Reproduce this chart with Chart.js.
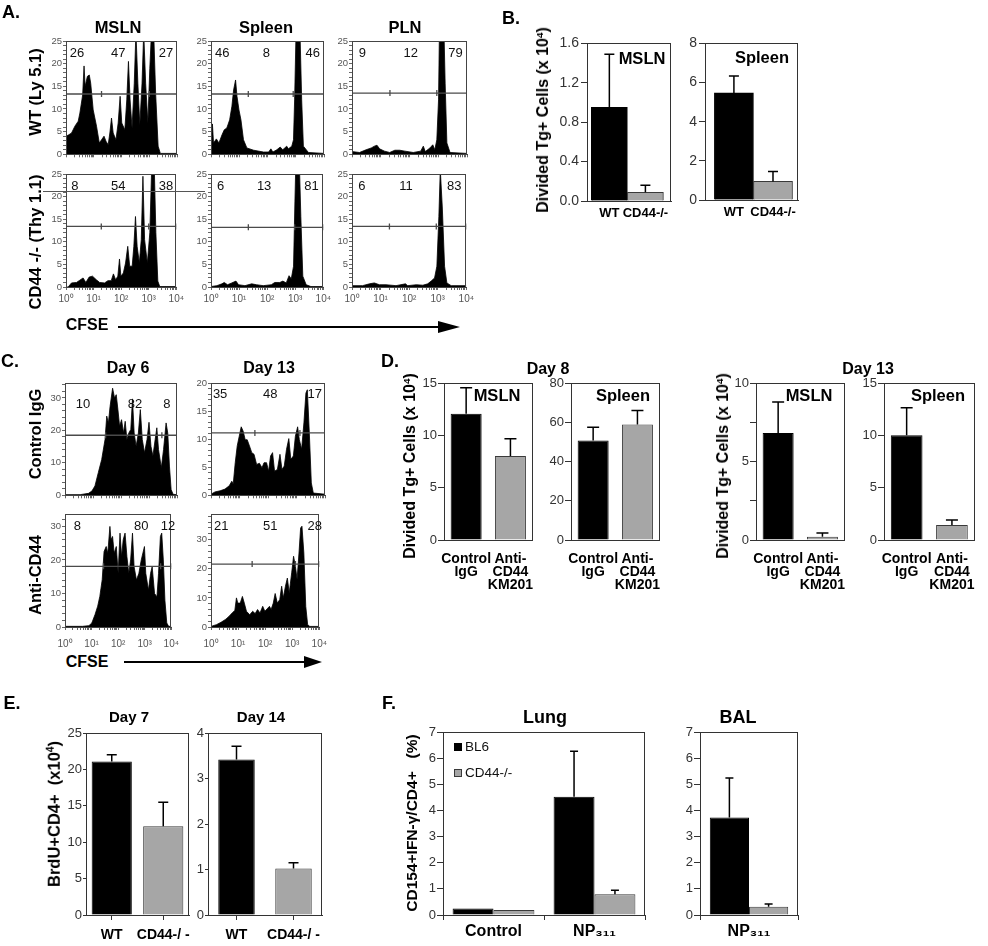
<!DOCTYPE html>
<html><head><meta charset="utf-8"><title>CD44 figure</title>
<script src="https://cdn.jsdelivr.net/npm/chart.js@4.4.1/dist/chart.umd.min.js"></script>
<style>
html,body{margin:0;padding:0;background:#fff;}
body{position:relative;width:988px;height:946px;overflow:hidden;font-family:'Liberation Sans',Arial,Helvetica,sans-serif;}
canvas{position:absolute;}
.t{position:absolute;transform:translate(-50%,-50%);white-space:nowrap;line-height:1;color:#000;}
.t.r{transform:translate(-50%,-50%) rotate(-90deg);}
.t sup{font-size:0.62em;line-height:0;vertical-align:0.55em;}
.ln{position:absolute;background:#000;}
.tri{position:absolute;width:0;height:0;border-style:solid;border-color:transparent transparent transparent #000;}
.sq{position:absolute;width:8px;height:8px;}
</style></head><body>
<script>
// ===================== DATA =====================
// CFSE histograms (x in decades of log10 CFSE, y = events)
const A_Y_TICKS = [0,5,10,15,20,25];
const A_MSLN_WT_X = [0,0.1,0.2,0.32,0.44,0.5,0.6,0.65,0.69,0.77,0.84,0.89,0.98,1.1,1.2,1.28,1.37,1.44,1.52,1.58,1.64,1.7,1.8,1.88,1.95,2.01,2.12,2.19,2.25,2.31,2.38,2.46,2.52,2.59,2.66,2.74,2.8,2.87,2.95,3.02,3.08,3.16,3.23,3.32,3.4,4];
const A_MSLN_WT_Y = [4.0,4.3,4.7,6.2,7.3,9.1,13.1,19.5,15,17.2,17.5,15.7,9.8,6.2,2.5,3.2,4.0,2.9,2.1,4.7,8.0,4.7,3.2,6.9,12.8,6.9,5.4,12,20.5,12,5.8,15.7,27,15.7,6.5,15.7,27,15.7,6.9,19,27,27,13.5,1.8,0.2,0.2];
const A_SPL_WT_X = [0,0.05,0.09,0.19,0.28,0.39,0.47,0.56,0.66,0.74,0.8,0.87,0.92,0.99,1.06,1.15,1.27,1.51,1.86,2.04,2.12,2.19,2.33,2.45,2.54,2.68,2.74,2.86,2.92,2.96,3.01,3.15,3.21,3.27,3.45,4];
const A_SPL_WT_Y = [2.5,6.7,2.5,3.4,2.5,4.3,5.4,5.8,7.6,10.6,14.2,16.4,12.8,9.8,7.6,3.2,1.4,0.9,0.5,0.5,1.2,0.5,1.0,1.6,1.0,1.8,1.2,1.8,3.2,12,27,27,12,1.8,0.4,0.2];
const A_PLN_WT_X = [0,0.26,0.49,0.67,0.78,0.87,0.96,1.13,1.31,1.49,1.66,1.84,2.13,2.39,2.48,2.55,2.71,2.81,2.88,2.95,3.01,3.04,3.2,3.24,3.3,3.41,4];
const A_PLN_WT_Y = [0.6,0.4,1.0,1.4,1.8,2.0,1.2,0.7,0.4,0.9,0.9,0.7,0.4,0.7,1.8,0.6,1.4,2.1,1.0,3.2,12,27,27,15.7,2.5,0.4,0.2];
const A_MSLN_KO_X = [0,0.08,0.2,0.38,0.5,0.62,0.72,0.84,0.96,1.1,1.22,1.4,1.52,1.64,1.72,1.8,1.88,1.94,1.99,2.08,2.16,2.24,2.31,2.4,2.46,2.52,2.58,2.66,2.73,2.79,2.85,2.95,3.04,3.11,3.2,3.26,3.33,3.4,4];
const A_MSLN_KO_Y = [0,0,0.9,1.0,1.5,2.0,1.0,2.2,2.4,1.6,1.0,0.9,1.4,1.4,2.9,1.6,2.4,6.2,2.4,3.1,5.3,9.0,4.6,4.6,9.0,15.6,9.0,5.3,10.5,24.5,10.5,5.3,12,27,27,12,1.3,0.1,0.1];
const A_SPL_KO_X = [0,0.21,0.39,0.47,0.59,0.74,0.89,0.98,1.21,1.45,1.62,1.86,2.15,2.27,2.45,2.56,2.68,2.78,2.86,2.94,2.99,3.02,3.15,3.2,3.27,3.39,3.56,4];
const A_SPL_KO_Y = [0.1,0.3,0.7,1.0,0.5,0.9,1.3,0.5,0.3,0.7,0.5,0.3,0.5,1.0,1.0,1.3,0.9,2.5,1.8,4.6,19,27,27,15.6,2.4,0.5,0.1,0.1];
const A_PLN_KO_X = [0,0.37,0.61,0.78,0.96,1.19,1.54,1.87,1.95,2.25,2.48,2.65,2.77,2.89,2.97,3.04,3.09,3.16,3.24,3.32,3.47,4];
const A_PLN_KO_Y = [0.3,0.3,0.7,0.9,0.5,0.5,0.3,0.7,0.3,0.5,0.4,0.7,1.3,2.0,4.6,15.6,26,17.7,4.6,0.9,0.3,0.3];

const A_MSLN_WT_PCT = ['26','47','27'];
const A_SPL_WT_PCT  = ['46','8','46'];
const A_PLN_WT_PCT  = ['9','12','79'];
const A_MSLN_KO_PCT = ['8','54','38'];
const A_SPL_KO_PCT  = ['6','13','81'];
const A_PLN_KO_PCT  = ['6','11','83'];

const A_MSLN_WT_GATE = [0,1.28,3.0,4];  const A_MSLN_WT_GATE_Y = 13.3;
const A_SPL_WT_GATE  = [0,1.32,2.91,4]; const A_SPL_WT_GATE_Y  = 13.3;
const A_PLN_WT_GATE  = [0,1.32,2.95,4]; const A_PLN_WT_GATE_Y  = 13.5;
const A_MSLN_KO_GATE = [0,1.28,3.0,4];  const A_MSLN_KO_GATE_Y = 13.4;
const A_SPL_KO_GATE  = [0,1.33,2.98,4]; const A_SPL_KO_GATE_Y  = 13.2;
const A_PLN_KO_GATE  = [0,1.31,2.95,4]; const A_PLN_KO_GATE_Y  = 13.4;

const C_D6_TICKS = [0,10,20,30];
const C_D13C_TICKS = [0,5,10,15,20];
const C_D6_CTRL_X = [0,0.54,0.84,0.96,1.07,1.19,1.31,1.43,1.49,1.55,1.61,1.7,1.77,1.83,1.89,1.95,2.02,2.09,2.15,2.21,2.28,2.35,2.41,2.47,2.54,2.62,2.69,2.76,2.84,2.93,3.0,3.07,3.14,3.22,3.28,3.34,3.44,3.52,3.61,3.67,3.73,3.79,3.86,4];
const C_D6_CTRL_Y = [0.2,0.2,0.6,1.3,2.9,7.0,11,17.2,24.4,22.3,27.4,33,30,31,26.4,21.3,23.3,19.2,22.8,17.2,19.2,20.3,29.7,19.2,15.1,19.2,26.4,17.2,13.1,17.2,22.5,15.1,12.1,17.2,20.8,14.1,8.5,14.1,22.3,19.2,9.0,1.8,0.3,0.2];
const C_D13_CTRL_X = [0,0.14,0.32,0.49,0.64,0.73,0.78,0.85,0.92,0.99,1.06,1.13,1.2,1.27,1.35,1.43,1.51,1.6,1.7,1.79,1.86,1.95,2.02,2.09,2.16,2.23,2.33,2.42,2.49,2.57,2.65,2.73,2.8,2.89,2.96,3.04,3.1,3.18,3.26,3.33,3.38,3.45,3.52,3.59,4];
const C_D13_CTRL_Y = [0.2,0.6,0.8,1.1,1.7,2.5,2.0,5.8,8.8,10.5,12.2,11.4,9.9,9.9,8.8,7.6,7.3,5.5,5.7,4.9,5.8,5.8,4.3,7.0,7.6,4.3,4.6,7.3,4.6,5.2,8.2,10.1,6.4,7.0,10.5,12.2,9.9,8.2,12.9,18.2,18.8,11.1,2.2,0.4,0.2];
const C_D6_ANTI_X = [0,0.66,0.9,1.01,1.13,1.23,1.31,1.4,1.47,1.55,1.61,1.69,1.73,1.79,1.85,1.93,2.0,2.07,2.13,2.19,2.26,2.33,2.4,2.47,2.54,2.6,2.69,2.78,2.87,2.99,3.04,3.14,3.22,3.28,3.37,3.46,3.52,3.59,3.64,3.7,3.76,3.83,3.9,4];
const C_D6_ANTI_Y = [0.2,0.2,0.4,1.2,3.7,6.2,9.1,14.1,22.5,24,22,30,26,27,22,24,16,28,21,26,28,21,16,20,28,18,14,16,20,24,16,11,16,18,10,9,16,27,28,20,8,1.2,0.2,0.2];
const C_D13_ANTI_X = [0,0.2,0.37,0.55,0.67,0.78,0.88,0.94,0.99,1.08,1.16,1.23,1.31,1.43,1.54,1.63,1.72,1.81,1.91,1.99,2.07,2.16,2.22,2.3,2.37,2.45,2.54,2.61,2.67,2.75,2.82,2.89,2.98,3.05,3.12,3.18,3.25,3.31,3.36,3.43,3.5,3.57,3.65,4];
const C_D13_ANTI_Y = [0.2,0.8,1.6,2.7,3.7,4.8,5.7,10,8.2,8.2,10.5,8.2,5.4,4.2,5.4,4.6,6.0,4.8,7.1,5.4,6.2,7.1,6.0,8.2,11.5,8.2,9.4,14,10,14,16.8,11.7,18.6,24.3,20.8,16.3,25.4,34,34.6,25.4,7.1,0.8,0.2,0.2];

const C_D6_CTRL_PCT = ['10','82','8'];
const C_D13_CTRL_PCT = ['35','48','17'];
const C_D6_ANTI_PCT = ['8','80','12'];
const C_D13_ANTI_PCT = ['21','51','28'];
const C_D6_CTRL_GATE = [0,1.45,3.46,4];  const C_D6_CTRL_GATE_Y = 18.5;
const C_D13_CTRL_GATE = [0,1.54,3.12,4]; const C_D13_CTRL_GATE_Y = 11.1;
const C_D6_ANTI_GATE = [0,1.45,3.6,4];   const C_D6_ANTI_GATE_Y = 18.1;
const C_D13_ANTI_GATE = [0,1.52,3.12,4]; const C_D13_ANTI_GATE_Y = 21.6;

// Bar charts (means and upper error-bar ends)
const B_GROUPS = ['WT','CD44-/-'];
const B_MSLN = [0.95, 0.088];   const B_MSLN_ERR = [1.49, 0.159];   const B_MSLN_TICKS = [0,0.4,0.8,1.2,1.6];
const B_SPLEEN = [5.47, 0.95];  const B_SPLEEN_ERR = [6.34, 1.45];  const B_SPLEEN_TICKS = [0,2,4,6,8];

const D_GROUPS = [['Control','IgG'],['Anti-','CD44','KM201']];
const D8_MSLN = [12.06, 8.03];   const D8_MSLN_ERR = [14.54, 9.68];   const D8_MSLN_TICKS = [0,5,10,15];
const D8_SPLEEN = [50.7, 58.9];  const D8_SPLEEN_ERR = [57.4, 66.0];  const D8_SPLEEN_TICKS = [0,20,40,60,80];
const D13_MSLN = [6.82, 0.21];   const D13_MSLN_ERR = [8.79, 0.44];   const D13_MSLN_TICKS = [0,2.5,5,7.5,10];
const D13_SPLEEN = [10.0, 1.43]; const D13_SPLEEN_ERR = [12.63, 1.9]; const D13_SPLEEN_TICKS = [0,5,10,15];

const E_GROUPS = ['WT','CD44-/ -'];
const E_DAY7 = [21.1, 12.2];   const E_DAY7_ERR = [22.0, 15.5];   const E_DAY7_TICKS = [0,5,10,15,20,25];
const E_DAY14 = [3.42, 1.02];  const E_DAY14_ERR = [3.71, 1.15];  const E_DAY14_TICKS = [0,1,2,3,4];

const F_SERIES = ['BL6','CD44-/-'];
const F_LUNG_GROUPS = ['Control','NP₃₁₁'];
const F_LUNG_BL6 = [0.25, 4.52]; const F_LUNG_BL6_ERR = [null, 6.26];
const F_LUNG_KO  = [0.19, 0.79]; const F_LUNG_KO_ERR  = [null, 0.95];
const F_BAL_GROUPS = ['NP₃₁₁'];
const F_BAL_BL6 = [3.73]; const F_BAL_BL6_ERR = [5.24];
const F_BAL_KO  = [0.32]; const F_BAL_KO_ERR  = [0.42];
const F_TICKS = [0,1,2,3,4,5,6,7];

// ===================== STYLE / HELPERS =====================
const FONT = "'Liberation Sans', Arial, Helvetica, sans-serif";
Chart.defaults.font.family = FONT;
Chart.defaults.color = '#333';
const BLACK = '#000', GRAY = '#a6a6a6', EDGE = '#3a3a3a', AX = '#333';
const SUP = ['⁰','¹','²','³','⁴'];
const isInt = v => Math.abs(v - Math.round(v)) < 1e-6;
const LOG_TICKS = (() => { const t = []; for (let d = 0; d < 4; d++) for (let k = 1; k < 10; k++) t.push(d + Math.log10(k)); t.push(4); return t; })();

Chart.register({
  id: 'box', defaults: { on: false, color: '#333', width: 1 },
  afterDraw(ch, args, o) {
    if (!o.on) return;
    const a = ch.chartArea, c = ch.ctx;
    c.save(); c.strokeStyle = o.color; c.lineWidth = o.width;
    c.strokeRect(Math.round(a.left) + 0.5, Math.round(a.top) + 0.5, Math.round(a.right - a.left) - 1, Math.round(a.bottom - a.top));
    c.restore();
  }
});
Chart.register({
  id: 'err', defaults: { cap: 5, width: 1.5, color: '#000' },
  afterDatasetsDraw(ch, args, o) {
    const c = ch.ctx, ys = ch.scales.y;
    ch.data.datasets.forEach((ds, i) => {
      if (!ds.errUpper) return;
      ch.getDatasetMeta(i).data.forEach((bar, j) => {
        const e = ds.errUpper[j];
        if (e == null) return;
        const py = ys.getPixelForValue(e);
        c.save(); c.strokeStyle = o.color; c.lineWidth = o.width; c.beginPath();
        c.moveTo(bar.x, bar.y); c.lineTo(bar.x, py);
        c.moveTo(bar.x - o.cap, py); c.lineTo(bar.x + o.cap, py);
        c.stroke(); c.restore();
      });
    });
  }
});

function mk(box, m, cfg) {
  const [l, t, r, b] = box;
  const w = r - l + m.yW + m.pr, h = b - t + m.pt + m.xH;
  const c = document.createElement('canvas');
  c.width = w; c.height = h;
  Object.assign(c.style, { left: (l - m.yW) + 'px', top: (t - m.pt) + 'px', width: w + 'px', height: h + 'px' });
  document.body.appendChild(c);
  const o = cfg.options;
  o.responsive = false; o.animation = false; o.devicePixelRatio = 1; o.events = [];
  o.layout = { padding: { top: m.pt, right: m.pr, left: 0, bottom: 0 } };
  o.plugins = Object.assign({ legend: { display: false }, tooltip: { enabled: false } }, o.plugins || {});
  o.scales.x.afterFit = s => { s.height = m.xH; };
  o.scales.y.afterFit = s => { s.width = m.yW; };
  return new Chart(c, cfg);
}

function txt(x, y, html, size, opt) {
  opt = opt || {};
  const d = document.createElement('div');
  d.className = 't' + (opt.rot ? ' r' : '');
  d.style.left = x + 'px'; d.style.top = y + 'px'; d.style.fontSize = size + 'px';
  d.style.fontWeight = opt.normal ? 'normal' : 'bold';
  if (opt.color) d.style.color = opt.color;
  d.innerHTML = html;
  document.body.appendChild(d);
}
function hline(x1, x2, y, th, col) {
  const d = document.createElement('div'); d.className = 'ln';
  Object.assign(d.style, { left: x1 + 'px', top: (y - th / 2) + 'px', width: (x2 - x1) + 'px', height: th + 'px', background: col || '#000' });
  document.body.appendChild(d);
}
function arrow(x1, x2, y, headLen, headH) {
  hline(x1, x2 - headLen + 1, y, 1.6);
  const d = document.createElement('div'); d.className = 'tri';
  Object.assign(d.style, { left: (x2 - headLen) + 'px', top: (y - headH / 2) + 'px', borderWidth: (headH / 2) + 'px 0 ' + (headH / 2) + 'px ' + headLen + 'px' });
  document.body.appendChild(d);
}

// ---------- histogram factory ----------
function hist(h) {
  const yAll = []; for (let v = 0; v <= h.ymax + 1e-9; v += h.minor) yAll.push(v);
  const m = { yW: 26, pt: 8, pr: 10, xH: h.showX ? h.xH : 6 };
  mk(h.box, m, {
    type: 'line',
    data: { datasets: [
      { data: h.gate.map(x => ({ x, y: h.gy })), borderColor: '#4a4a4a', borderWidth: 1.3, pointStyle: 'line', rotation: 90, pointRadius: 3, pointBorderColor: '#4a4a4a', pointBorderWidth: 1.3, fill: false, order: 0 },
      { data: h.x.map((x, i) => ({ x, y: h.y[i] })), borderColor: BLACK, backgroundColor: BLACK, borderWidth: 0.8, pointRadius: 0, fill: 'origin', tension: 0, order: 1 }
    ] },
    options: {
      plugins: { box: { on: true, color: '#444' } },
      scales: {
        x: { type: 'linear', min: 0, max: 4,
             afterBuildTicks: s => { s.ticks = LOG_TICKS.map(v => ({ value: v })); },
             ticks: { display: !!h.showX, autoSkip: false, maxRotation: 0, padding: h.xPad || 3, font: { size: 10 }, color: '#555',
                      callback: v => isInt(v) ? '10' + SUP[Math.round(v)] : '' },
             grid: { drawOnChartArea: false, tickLength: 3, color: '#666' }, border: { color: '#444' } },
        y: { min: 0, max: h.ymax,
             afterBuildTicks: s => { s.ticks = yAll.map(v => ({ value: v })); },
             ticks: { autoSkip: false, padding: 1, font: { size: 9.5 }, color: '#555',
                      callback: v => h.yt.some(t => Math.abs(t - v) < 1e-6) ? String(Math.round(v)) : '' },
             grid: { drawOnChartArea: false, tickLength: 3, color: '#666' }, border: { color: '#444' } }
      }
    }
  });
  const [l, t, r] = h.box;
  h.pct.forEach((p, i) => txt(l + h.fx[i] * (r - l), t + h.dy, p, 13, { normal: true, color: '#111' }));
}

// ---------- bar factory ----------
function barChart(box, m, o) {
  const lin = !!o.xRange;
  const x = {
    ticks: { font: { size: o.xFont, weight: 'bold', lineHeight: o.lh || 1.2 }, color: '#000', padding: o.xPad, maxRotation: 0, autoSkip: false },
    grid: o.xGrid === 'none' ? { display: false, drawTicks: false } : { display: true, drawOnChartArea: false, offset: o.xGrid === 'bound', tickLength: 5, color: AX },
    border: { color: AX }
  };
  let labels;
  if (lin) {
    Object.assign(x, { type: 'linear', min: o.xRange[0], max: o.xRange[1], offset: false,
      afterBuildTicks: s => { s.ticks = o.labels.map((_, i) => ({ value: i })); } });
    x.ticks.callback = v => o.labels[Math.round(v)];
  } else { x.type = 'category'; labels = o.labels; }
  const datasets = o.series.map(s => ({
    label: s.label,
    data: lin ? s.data.map((v, i) => ({ x: i, y: v })) : s.data,
    errUpper: s.err, backgroundColor: s.bg, borderColor: s.bd, borderWidth: 1,
    barPercentage: o.barPct, categoryPercentage: o.catPct
  }));
  mk(box, m, {
    type: 'bar',
    data: lin ? { datasets } : { labels, datasets },
    options: {
      plugins: { box: { on: true, color: AX }, err: { cap: o.cap || 5 } },
      scales: {
        x,
        y: { min: 0, max: o.ymax,
             afterBuildTicks: s => { s.ticks = o.yTicks.map(v => ({ value: v })); },
             ticks: { autoSkip: false, font: { size: o.yFont }, color: '#333', padding: o.yPad || 2, callback: o.yFmt || (v => String(v)) },
             grid: { drawOnChartArea: false, tickLength: o.tl, color: AX }, border: { color: AX } }
      }
    }
  });
}

// ===================== PANEL A =====================
hist({ box: [66,41,177,155], x: A_MSLN_WT_X, y: A_MSLN_WT_Y, ymax: 25, minor: 1, yt: A_Y_TICKS, gate: A_MSLN_WT_GATE, gy: A_MSLN_WT_GATE_Y, pct: A_MSLN_WT_PCT, fx: [0.1,0.47,0.9], dy: 11 });
hist({ box: [211,41,324,155], x: A_SPL_WT_X, y: A_SPL_WT_Y, ymax: 25, minor: 1, yt: A_Y_TICKS, gate: A_SPL_WT_GATE, gy: A_SPL_WT_GATE_Y, pct: A_SPL_WT_PCT, fx: [0.1,0.49,0.9], dy: 11 });
hist({ box: [352,41,467,155], x: A_PLN_WT_X, y: A_PLN_WT_Y, ymax: 25, minor: 1, yt: A_Y_TICKS, gate: A_PLN_WT_GATE, gy: A_PLN_WT_GATE_Y, pct: A_PLN_WT_PCT, fx: [0.09,0.51,0.9], dy: 11 });
hist({ box: [66,174,177,287], x: A_MSLN_KO_X, y: A_MSLN_KO_Y, ymax: 25, minor: 1, yt: A_Y_TICKS, gate: A_MSLN_KO_GATE, gy: A_MSLN_KO_GATE_Y, pct: A_MSLN_KO_PCT, fx: [0.08,0.47,0.9], dy: 11, showX: true, xH: 22, xPad: 3 });
hist({ box: [211,174,324,287], x: A_SPL_KO_X, y: A_SPL_KO_Y, ymax: 25, minor: 1, yt: A_Y_TICKS, gate: A_SPL_KO_GATE, gy: A_SPL_KO_GATE_Y, pct: A_SPL_KO_PCT, fx: [0.086,0.47,0.89], dy: 11, showX: true, xH: 22, xPad: 3 });
hist({ box: [352,174,467,287], x: A_PLN_KO_X, y: A_PLN_KO_Y, ymax: 25, minor: 1, yt: A_Y_TICKS, gate: A_PLN_KO_GATE, gy: A_PLN_KO_GATE_Y, pct: A_PLN_KO_PCT, fx: [0.085,0.47,0.89], dy: 11, showX: true, xH: 22, xPad: 3 });

// ===================== PANEL C =====================
hist({ box: [65,383,177,496], x: C_D6_CTRL_X, y: C_D6_CTRL_Y, ymax: 34.6, minor: 2, yt: C_D6_TICKS, gate: C_D6_CTRL_GATE, gy: C_D6_CTRL_GATE_Y, pct: C_D6_CTRL_PCT, fx: [0.16,0.625,0.91], dy: 20 });
hist({ box: [211,383,325,496], x: C_D13_CTRL_X, y: C_D13_CTRL_Y, ymax: 20, minor: 1, yt: C_D13C_TICKS, gate: C_D13_CTRL_GATE, gy: C_D13_CTRL_GATE_Y, pct: C_D13_CTRL_PCT, fx: [0.08,0.52,0.91], dy: 10 });
hist({ box: [65,514,177,627], x: C_D6_ANTI_X, y: C_D6_ANTI_Y, ymax: 33.7, minor: 2, yt: C_D6_TICKS, gate: C_D6_ANTI_GATE, gy: C_D6_ANTI_GATE_Y, pct: C_D6_ANTI_PCT, fx: [0.11,0.68,0.92], dy: 11, showX: true, xH: 26, xPad: 8 });
hist({ box: [211,514,325,627], x: C_D13_ANTI_X, y: C_D13_ANTI_Y, ymax: 38.8, minor: 2, yt: C_D6_TICKS, gate: C_D13_ANTI_GATE, gy: C_D13_ANTI_GATE_Y, pct: C_D13_ANTI_PCT, fx: [0.09,0.52,0.91], dy: 11, showX: true, xH: 26, xPad: 8 });

// ===================== PANEL B =====================
const bw = (data, err) => [{ data, err, bg: [BLACK, GRAY], bd: [BLACK, EDGE] }];
barChart([587,43,671,201], { yW: 40, xH: 24, pt: 10, pr: 6 }, { labels: B_GROUPS, xRange: [-0.62, 1.71], series: bw(B_MSLN, B_MSLN_ERR), barPct: 1, catPct: 1,
  ymax: 1.6, yTicks: B_MSLN_TICKS, yFont: 14, tl: 6, yPad: 2, yFmt: v => v.toFixed(1), xFont: 13, xPad: 5, xGrid: 'none', cap: 5 });
barChart([705,43,798,200], { yW: 30, xH: 24, pt: 10, pr: 8 }, { labels: B_GROUPS, xRange: [-0.74, 1.64], series: bw(B_SPLEEN, B_SPLEEN_ERR), barPct: 1, catPct: 1,
  ymax: 8, yTicks: B_SPLEEN_TICKS, yFont: 14, tl: 6, yPad: 2, xFont: 13, xPad: 5, xGrid: 'none', cap: 5 });

// ===================== PANEL D =====================
const dOpt = { labels: D_GROUPS, barPct: 0.7, catPct: 1, yFont: 13, tl: 6, yPad: 1, xFont: 14, lh: 0.95, xPad: 12, xGrid: 'none', cap: 6 };
barChart([444,383,539,540], { yW: 30, xH: 60, pt: 10, pr: 8 }, Object.assign({}, dOpt, { series: bw(D8_MSLN, D8_MSLN_ERR), ymax: 15, yTicks: D8_MSLN_TICKS }));
barChart([571,383,666,540], { yW: 30, xH: 60, pt: 10, pr: 8 }, Object.assign({}, dOpt, { series: bw(D8_SPLEEN, D8_SPLEEN_ERR), ymax: 80, yTicks: D8_SPLEEN_TICKS }));
barChart([756,383,851,540], { yW: 30, xH: 60, pt: 10, pr: 8 }, Object.assign({}, dOpt, { series: bw(D13_MSLN, D13_MSLN_ERR), ymax: 10, yTicks: D13_MSLN_TICKS, yFmt: v => (v % 5 === 0 ? String(v) : '') }));
barChart([884,383,982,540], { yW: 30, xH: 60, pt: 10, pr: 6 }, Object.assign({}, dOpt, { series: bw(D13_SPLEEN, D13_SPLEEN_ERR), ymax: 15, yTicks: D13_SPLEEN_TICKS }));

// ===================== PANEL E =====================
barChart([86,733,189,915], { yW: 30, xH: 30, pt: 10, pr: 12 }, { labels: E_GROUPS, series: bw(E_DAY7, E_DAY7_ERR), barPct: 0.78, catPct: 1,
  ymax: 25, yTicks: E_DAY7_TICKS, yFont: 13, tl: 3, yPad: 1, xFont: 14, xPad: 7, xGrid: 'center', cap: 5 });
barChart([208,733,322,915], { yW: 22, xH: 30, pt: 10, pr: 14 }, { labels: E_GROUPS, series: bw(E_DAY14, E_DAY14_ERR), barPct: 0.64, catPct: 1,
  ymax: 4, yTicks: E_DAY14_TICKS, yFont: 13, tl: 3, yPad: 1, xFont: 14, xPad: 7, xGrid: 'center', cap: 5 });

// ===================== PANEL F =====================
const fSeries = (a, ae, b, be) => [
  { label: F_SERIES[0], data: a, err: ae, bg: BLACK, bd: BLACK },
  { label: F_SERIES[1], data: b, err: be, bg: GRAY, bd: EDGE }
];
barChart([443,732,645,915], { yW: 30, xH: 30, pt: 10, pr: 10 }, { labels: F_LUNG_GROUPS, series: fSeries(F_LUNG_BL6, F_LUNG_BL6_ERR, F_LUNG_KO, F_LUNG_KO_ERR), barPct: 1, catPct: 0.81,
  ymax: 7, yTicks: F_TICKS, yFont: 13, tl: 6, yPad: 1, xFont: 16, xPad: 2, xGrid: 'bound', cap: 4 });
barChart([700,732,798,915], { yW: 30, xH: 30, pt: 10, pr: 10 }, { labels: F_BAL_GROUPS, series: fSeries(F_BAL_BL6, F_BAL_BL6_ERR, F_BAL_KO, F_BAL_KO_ERR), barPct: 1, catPct: 0.8,
  ymax: 7, yTicks: F_TICKS, yFont: 13, tl: 6, yPad: 1, xFont: 16, xPad: 2, xGrid: 'bound', cap: 4 });

// ===================== TEXT / DECORATION =====================
// Panel A
txt(11, 12, 'A.', 18);
txt(118, 27, 'MSLN', 16.5); txt(266, 27, 'Spleen', 16.5); txt(405, 27, 'PLN', 16.5);
txt(35, 92, 'WT (Ly 5.1)', 16.5, { rot: true });
txt(35, 242, 'CD44 -/- (Thy 1.1)', 16.5, { rot: true });
hline(43, 205, 191, 1, '#555');
txt(87, 325, 'CFSE', 16);
arrow(118, 460, 327, 22, 13);
// Panel B
txt(511, 18, 'B.', 18);
txt(543, 120, 'Divided Tg+ Cells (x 10<sup>4</sup>)', 16, { rot: true });
txt(642, 58, 'MSLN', 16.5); txt(762, 57, 'Spleen', 16.5);
// Panel C
txt(10, 361, 'C.', 18);
txt(128, 368, 'Day 6', 16); txt(269, 368, 'Day 13', 16);
txt(35, 434, 'Control IgG', 16.5, { rot: true });
txt(35, 575, 'Anti-CD44', 16.5, { rot: true });
txt(87, 662, 'CFSE', 16);
arrow(124, 322, 662, 18, 13);
// Panel D
txt(390, 361, 'D.', 18);
txt(548, 369, 'Day 8', 16); txt(868, 369, 'Day 13', 16);
txt(410, 466, 'Divided Tg+ Cells (x 10<sup>4</sup>)', 16, { rot: true });
txt(723, 466, 'Divided Tg+ Cells (x 10<sup>4</sup>)', 16, { rot: true });
txt(497, 395, 'MSLN', 16.5); txt(623, 395, 'Spleen', 16.5);
txt(809, 395, 'MSLN', 16.5); txt(938, 395, 'Spleen', 16.5);
// Panel E
txt(12, 703, 'E.', 18);
txt(129, 716, 'Day 7', 15); txt(261, 716, 'Day 14', 15);
txt(54, 814, 'BrdU+CD4+&nbsp;&nbsp;(x10<sup>4</sup>)', 16.5, { rot: true });
// Panel F
txt(389, 703, 'F.', 18);
txt(545, 717, 'Lung', 18); txt(738, 717, 'BAL', 18);
txt(412, 823, 'CD154+IFN-γ/CD4+&nbsp;&nbsp;&nbsp;(%)', 15.5, { rot: true });
(function legend() {
  const cols = [[BLACK, BLACK], [GRAY, EDGE]];
  F_SERIES.forEach((name, i) => {
    const y = 747 + i * 26;
    const s = document.createElement('div'); s.className = 'sq';
    Object.assign(s.style, { left: '454px', top: (y - 4) + 'px', background: cols[i][0], border: '1px solid ' + cols[i][1], boxSizing: 'border-box' });
    document.body.appendChild(s);
    const d = document.createElement('div'); d.className = 't';
    Object.assign(d.style, { left: '465px', top: y + 'px', fontSize: '13.5px', transform: 'translate(0,-50%)', color: '#111' });
    d.textContent = name;
    document.body.appendChild(d);
  });
})();
</script>
</body></html>
